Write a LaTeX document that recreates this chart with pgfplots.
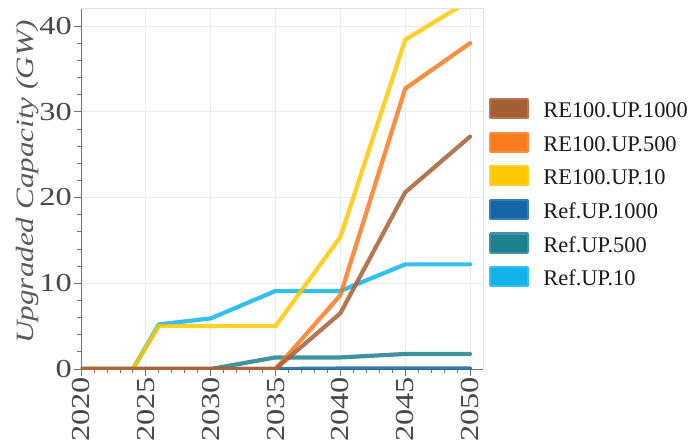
\documentclass[border=0pt]{standalone}
\usepackage{fontspec}
\setmainfont{Liberation Serif}
\newfontfamily\axfont[FakeStretch=1.25]{Liberation Serif}
\usepackage{pgfplots}
\pgfplotsset{compat=1.18}
\definecolor{cBrown}{HTML}{A65F35}
\definecolor{cOrange}{HTML}{FA7A1E}
\definecolor{cYellow}{HTML}{FFC800}
\definecolor{cBlue}{HTML}{1565A8}
\definecolor{cTeal}{HTML}{1E7F8F}
\definecolor{cCyan}{HTML}{10B4EA}
\begin{document}
\begin{tikzpicture}
\begin{axis}[
  at={(0,0)}, anchor=south west,
  scale only axis, width=402bp, height=361bp,
  xmin=2020, xmax=2051, ymin=0, ymax=42.1,
  xtick={2020,2025,...,2050}, ytick={0,10,20,30,40},
  minor x tick num=4, minor y tick num=4,
  tick align=outside,
  major tick length=7bp, minor tick length=4bp,
  tick style={color=black!55, line width=0.8bp},
  axis x line*=bottom, axis y line*=left,
  axis line style={black!55, line width=0.8bp, -},
  grid=major, major grid style={black!8, line width=0.8bp},
  /pgf/number format/assume math mode=true,
  /pgf/number format/1000 sep={},
  tick label style={font=\axfont\fontsize{26}{26}\selectfont, text=black!72},
  xticklabel style={rotate=90, anchor=east, inner sep=1bp},
  yticklabel style={inner sep=2bp},
  ylabel={Upgraded Capacity (GW)},
  every axis y label/.style={at={(axis description cs:-0.134,0.518)}, rotate=90, anchor=center,
    font=\axfont\fontsize{25}{25}\selectfont\itshape, text=black!65},
  legend style={at={(axis description cs:1.0149,0.751)}, anchor=north west, draw=none, fill=none,
    inner sep=0pt, row sep=10bp,
    nodes={inner sep=0pt, text height=16bp, text depth=4bp, font=\fontsize{22.5}{22.5}\selectfont, text=black!90}},
  legend cell align=left,
  legend image code/.code={\fill[#1] (0bp,-5.5bp) rectangle (36bp,11.5bp); \path (50bp,0bp);},
  reverse legend,
  every axis plot/.append style={no markers, line width=4.2bp, line join=round, line cap=round, draw opacity=0.85},
  after end axis/.code={\draw[black!12, line width=0.8bp] (rel axis cs:0,1) -- (rel axis cs:1,1) -- (rel axis cs:1,0);},
]
\addplot[color=cCyan] coordinates {(2020,0) (2024,0) (2026,5.2) (2030,5.9) (2035,9.1) (2040,9.1) (2045,12.2) (2050,12.2)};
\addlegendentry{Ref.UP.10}
\addplot[color=cTeal] coordinates {(2020,0) (2030,0) (2035,1.35) (2040,1.35) (2045,1.75) (2050,1.75)};
\addlegendentry{Ref.UP.500}
\addplot[color=cBlue] coordinates {(2020,0) (2035,0) (2040,0.05) (2045,0.05) (2050,0.05)};
\addlegendentry{Ref.UP.1000}
\addplot[color=cYellow] coordinates {(2020,0) (2024,0) (2026,5) (2035,5) (2040,15.4) (2045,38.4) (2050,43.0)};
\addlegendentry{RE100.UP.10}
\addplot[color=cOrange] coordinates {(2020,0) (2035,0) (2040,8.6) (2045,32.7) (2050,38.0)};
\addlegendentry{RE100.UP.500}
\addplot[color=cBrown] coordinates {(2020,0) (2035,0) (2040,6.5) (2045,20.6) (2050,27.1)};
\addlegendentry{RE100.UP.1000}
\end{axis}
\pgfresetboundingbox
\useasboundingbox (-81bp,-73bp) rectangle (616bp,369bp);
\end{tikzpicture}
\end{document}
